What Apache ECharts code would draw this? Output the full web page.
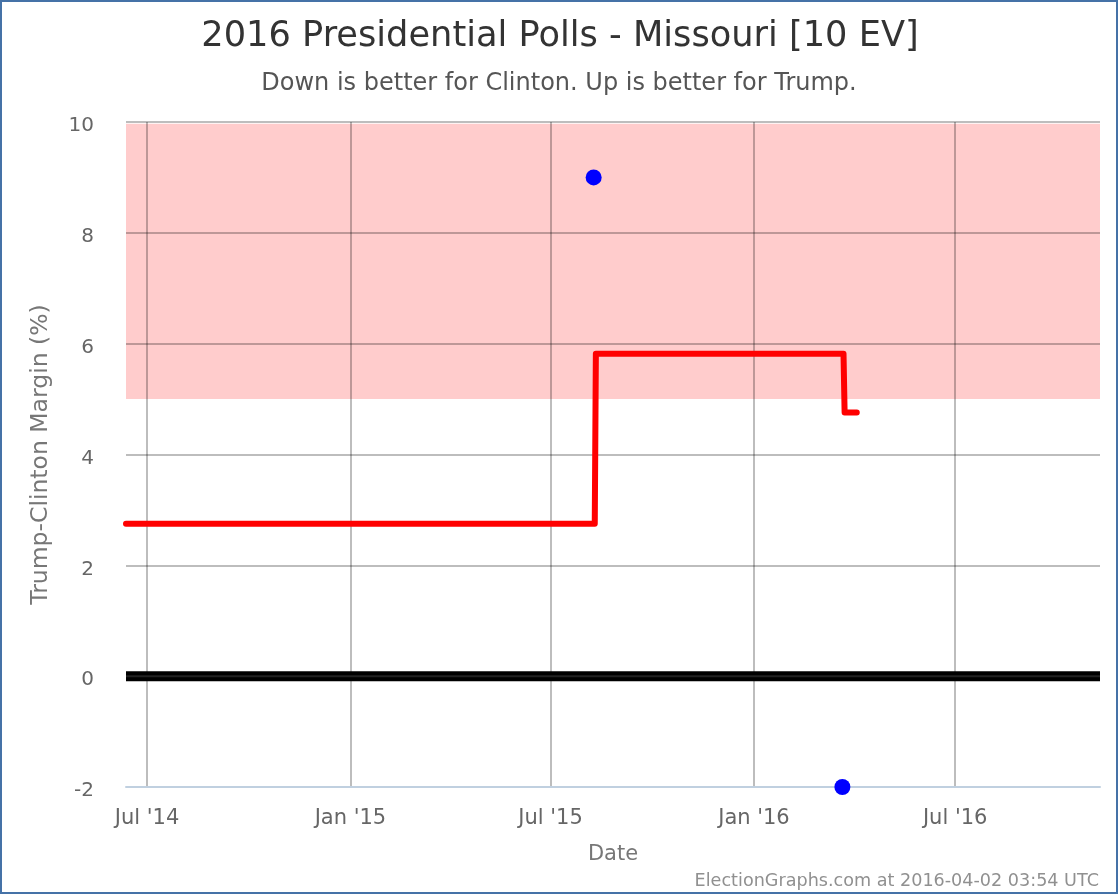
<!DOCTYPE html>
<html>
<head>
<meta charset="utf-8">
<style>
  html, body { margin: 0; padding: 0; background: #fff; }
  #chart { width: 1120px; height: 896px; }
</style>
<script src="https://cdn.jsdelivr.net/npm/echarts@6/dist/echarts.min.js"></script>
</head>
<body>
<div id="chart"></div>
<script>
var axisStart = '2014-06-12';
var axisEnd = '2016-11-09';
var tickDates = ['2014-07-01', '2015-01-01', '2015-07-01', '2016-01-01', '2016-07-01'];
var tickLabels = ["Jul '14", "Jan '15", "Jul '15", "Jan '16", "Jul '16"];
var yTicks = [-2, 0, 2, 4, 6, 8, 10];

var lineDates = ['2014-06-12', '2015-08-10', '2015-08-11', '2016-03-22', '2016-03-23', '2016-04-03'];
var lineValues = [2.75, 2.75, 5.82, 5.82, 4.76, 4.76];

var pollDates = ['2015-08-09', '2016-03-21'];
var pollValues = [9, -2];

var bandLow = 5;
var bandHigh = 9.97;

function ts(d) { return new Date(d + 'T00:00:00Z').getTime(); }

var tickTimes = tickDates.map(ts);
var font = 'DejaVu Sans';

var myChart = echarts.init(document.getElementById('chart'), null, { renderer: 'canvas' });

var option = {
	backgroundColor: '#ffffff',
	animation: false,
	title: [
		{
			text: '2016 Presidential Polls - Missouri [10 EV]',
			left: 555, top: 14, textAlign: 'center',
			textStyle: { fontFamily: font, fontSize: 35.2, fontWeight: 'normal', color: '#333333' }
		},
		{
			text: 'Down is better for Clinton. Up is better for Trump.',
			left: 554, top: 67, textAlign: 'center',
			textStyle: { fontFamily: font, fontSize: 24, fontWeight: 'normal', color: '#555555' }
		},
		{
			text: 'ElectionGraphs.com at 2016-04-02 03:54 UTC',
			right: 16, top: 867,
			textStyle: { fontFamily: font, fontSize: 17.6, fontWeight: 'normal', color: '#909090' }
		}
	],
	grid: { left: 126, right: 20, top: 122, bottom: 109 },
	xAxis: {
		type: 'value',
		min: ts(axisStart),
		max: ts(axisEnd),
		name: 'Date',
		nameLocation: 'middle',
		nameGap: 57,
		nameTextStyle: { fontFamily: font, fontSize: 21, color: '#777777' },
		axisLine: { show: true, onZero: false, lineStyle: { color: '#c0d0e0', width: 2 } },
		axisTick: { show: false, customValues: tickTimes },
		axisLabel: {
			customValues: tickTimes,
			fontFamily: font, fontSize: 21, color: '#666666', margin: 21,
			formatter: function (value) {
				return tickLabels[tickTimes.indexOf(value)];
			}
		},
		splitLine: { show: true, lineStyle: { color: 'rgba(0,0,0,0.26)', width: 2 } },
		z: 1
	},
	yAxis: {
		type: 'value',
		min: yTicks[0],
		max: yTicks[yTicks.length - 1],
		interval: 2,
		name: 'Trump-Clinton Margin (%)',
		nameLocation: 'middle',
		nameGap: 73,
		nameRotate: 90,
		nameTextStyle: { fontFamily: font, fontSize: 23.5, color: '#777777' },
		axisLine: { show: false },
		axisTick: { show: false },
		axisLabel: { fontFamily: font, fontSize: 20, color: '#666666', margin: 32, verticalAlign: 'top', lineHeight: 8 },
		splitLine: { show: true, lineStyle: { color: 'rgba(0,0,0,0.26)', width: 2 } },
		z: 1
	},
	series: [
		{
			name: 'band',
			type: 'line',
			z: 0,
			silent: true,
			symbol: 'none',
			data: [],
			markArea: {
				silent: true,
				z: 0,
				itemStyle: { color: '#ffcccc' },
				data: [[{ yAxis: bandLow }, { yAxis: bandHigh }]]
			}
		},
		{
			name: 'zero',
			type: 'line',
			z: 2,
			silent: true,
			symbol: 'none',
			lineStyle: { color: '#000000', width: 10, cap: 'butt' },
			data: [[ts(axisStart), 0], [ts(axisEnd), 0]]
		},
		{
			name: 'zeroMid',
			type: 'line',
			z: 3,
			silent: true,
			symbol: 'none',
			lineStyle: { color: '#222222', width: 2, cap: 'butt' },
			data: [[ts(axisStart), 0], [ts(axisEnd), 0]]
		},
		{
			name: 'average',
			type: 'line',
			z: 4,
			symbol: 'none',
			clip: false,
			lineStyle: { color: '#ff0000', width: 6, cap: 'round', join: 'round' },
			data: lineDates.map(function (d, i) { return [ts(d), lineValues[i]]; })
		},
		{
			name: 'polls',
			type: 'scatter',
			z: 5,
			clip: false,
			symbol: 'circle',
			symbolSize: 16,
			itemStyle: { color: '#0000ff', opacity: 1 },
			data: pollDates.map(function (d, i) { return [ts(d), pollValues[i]]; })
		}
	],
	graphic: [
		{
			type: 'rect',
			silent: true,
			z: 100,
			shape: { x: 1, y: 1, width: 1116, height: 892 },
			style: { fill: 'none', stroke: '#4572a7', lineWidth: 2 }
		}
	]
};

myChart.setOption(option);
</script>
</body>
</html>
